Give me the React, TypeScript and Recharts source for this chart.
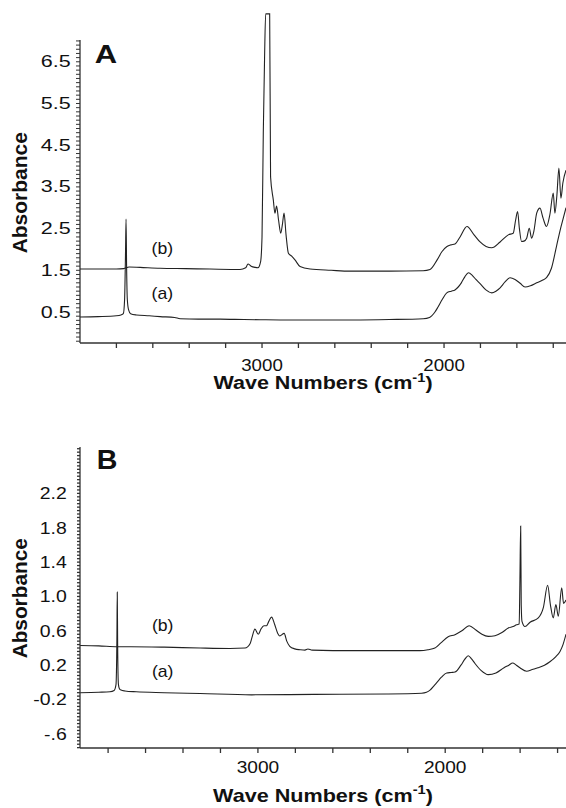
import React from 'react';
import { LineChart, Line, XAxis, YAxis, ReferenceLine, ReferenceDot } from 'recharts';

// ---------- Panel A data ----------
const aA_wn = [4000, 3900, 3800, 3775, 3762, 3755, 3750, 3747, 3744, 3740, 3733, 3722, 3690, 3620, 3560, 3480, 3450, 3350, 3230, 3100, 3010, 2900, 2740, 2500, 2300, 2114, 2080, 2050, 2033, 2010, 1985, 1960, 1940, 1905, 1885, 1866, 1845, 1825, 1802, 1770, 1738, 1715, 1692, 1665, 1637, 1610, 1582, 1555, 1525, 1491, 1460, 1436, 1410, 1381, 1360, 1345, 1330];
const aA_abs = [0.38, 0.39, 0.41, 0.43, 0.46, 0.8, 1.9, 2.73, 1.6, 0.8, 0.55, 0.46, 0.43, 0.41, 0.39, 0.37, 0.34, 0.33, 0.33, 0.32, 0.315, 0.31, 0.31, 0.31, 0.32, 0.34, 0.37, 0.5, 0.62, 0.8, 0.96, 1.0, 1.03, 1.2, 1.35, 1.44, 1.38, 1.28, 1.18, 1.03, 0.96, 1.0, 1.08, 1.22, 1.32, 1.28, 1.19, 1.1, 1.13, 1.2, 1.26, 1.33, 1.55, 2.1, 2.5, 2.75, 3.0];

const bA_wn = [4000, 3900, 3800, 3760, 3730, 3670, 3560, 3420, 3286, 3121, 3090, 3077, 3060, 3038, 3022, 3008, 3000, 2993, 2986, 2980, 2958, 2953, 2938, 2929, 2920, 2909, 2897, 2888, 2879, 2868, 2855, 2837, 2819, 2791, 2736, 2620, 2516, 2300, 2115, 2077, 2038, 2011, 1984, 1962, 1940, 1912, 1874, 1835, 1802, 1769, 1738, 1692, 1647, 1620, 1607, 1596, 1586, 1574, 1561, 1546, 1532, 1519, 1506, 1491, 1473, 1456, 1437, 1418, 1400, 1391, 1380, 1369, 1358, 1347, 1330];
const bA_abs = [1.53, 1.53, 1.53, 1.54, 1.58, 1.57, 1.55, 1.54, 1.53, 1.52, 1.56, 1.65, 1.6, 1.57, 1.56, 1.7, 2.3, 4.8, 6.6, 7.65, 7.65, 3.74, 3.19, 2.87, 3.04, 2.7, 2.39, 2.6, 2.87, 2.35, 1.91, 1.84, 1.75, 1.59, 1.53, 1.5, 1.48, 1.48, 1.49, 1.52, 1.75, 1.95, 2.07, 2.11, 2.13, 2.3, 2.55, 2.35, 2.18, 2.07, 2.04, 2.18, 2.35, 2.39, 2.7, 2.91, 2.5, 2.19, 2.2, 2.27, 2.51, 2.27, 2.45, 2.87, 2.99, 2.75, 2.55, 2.85, 3.35, 2.87, 3.3, 3.95, 3.23, 3.6, 3.9];

// ---------- Panel B data ----------
const aB_wn = [3950, 3850, 3790, 3768, 3758, 3753, 3751, 3749, 3745, 3740, 3731, 3710, 3650, 3500, 3309, 3033, 2700, 2312, 2126, 2100, 2081, 2060, 2044, 2020, 1992, 1968, 1948, 1916, 1895, 1877, 1858, 1841, 1809, 1770, 1729, 1686, 1660, 1640, 1620, 1601, 1565, 1535, 1505, 1470, 1441, 1409, 1387, 1371, 1355];
const aB_abs = [-0.12, -0.115, -0.11, -0.095, -0.03, 0.5, 1.05, 0.45, -0.02, -0.07, -0.09, -0.1, -0.11, -0.12, -0.13, -0.145, -0.14, -0.135, -0.126, -0.115, -0.09, -0.04, 0.0, 0.06, 0.11, 0.115, 0.12, 0.2, 0.27, 0.31, 0.27, 0.22, 0.14, 0.09, 0.11, 0.17, 0.2, 0.225, 0.2, 0.17, 0.13, 0.15, 0.17, 0.2, 0.24, 0.3, 0.36, 0.44, 0.56];

const bB_wn = [3950, 3850, 3750, 3680, 3500, 3309, 3150, 3069, 3042, 3032, 3016, 2998, 2984, 2968, 2954, 2942, 2927, 2910, 2894, 2883, 2860, 2846, 2830, 2803, 2775, 2749, 2733, 2711, 2600, 2402, 2135, 2092, 2055, 2023, 1984, 1948, 1911, 1872, 1836, 1804, 1770, 1734, 1697, 1663, 1637, 1619, 1605, 1601, 1597, 1594, 1590, 1574, 1547, 1503, 1476, 1453, 1438, 1423, 1409, 1396, 1378, 1368, 1355];
const bB_abs = [0.43, 0.425, 0.415, 0.415, 0.41, 0.4, 0.395, 0.4, 0.45, 0.52, 0.62, 0.56, 0.62, 0.66, 0.66, 0.71, 0.76, 0.67, 0.57, 0.54, 0.57, 0.48, 0.42, 0.39, 0.38, 0.375, 0.388, 0.375, 0.37, 0.37, 0.37, 0.38, 0.4, 0.46, 0.53, 0.555, 0.6, 0.66, 0.61, 0.56, 0.535, 0.543, 0.58, 0.633, 0.65, 0.671, 0.68, 1.2, 1.82, 0.9, 0.71, 0.65, 0.7, 0.75, 0.87, 1.13, 0.9, 0.75, 0.905, 0.77, 1.1, 0.92, 0.96];

// ---------- ticks / labels ----------
const xTicksA = [3800, 3600, 3400, 3200, 3000, 2800, 2600, 2400, 2200, 2000, 1800, 1600, 1400];
const xTicksB = [3800, 3600, 3400, 3200, 3000, 2800, 2600, 2400, 2200, 2000, 1800, 1600, 1400];
const xLabelValues = [3000, 2000];
const yLabelsA = [0.5, 1.5, 2.5, 3.5, 4.5, 5.5, 6.5];
const yLabelTextA = ['0.5', '1.5', '2.5', '3.5', '4.5', '5.5', '6.5'];
const yLabelsB = [2.2, 1.8, 1.4, 1.0, 0.6, 0.2, -0.2, -0.6];
const yLabelTextB = ['2.2', '1.8', '1.4', '1.0', '0.6', '0.2', '-0.2', '-.6'];

const minorTicks = (from: number, to: number, step: number) => {
  const out: number[] = [];
  const n = Math.round((to - from) / step);
  for (let i = 0; i <= n; i++) out.push(Math.round((from + i * step) * 1000) / 1000);
  return out;
};
const yTicksA = minorTicks(-0.2, 7.0, 0.1);
const yTicksB = minorTicks(-0.76, 2.72, 0.04);

const zip = (wn: number[], ab: number[]) => wn.map((w, i) => ({ wn: w, abs: ab[i] }));
const seriesAa = zip(aA_wn, aA_abs);
const seriesAb = zip(bA_wn, bA_abs);
const seriesBa = zip(aB_wn, aB_abs);
const seriesBb = zip(bB_wn, bB_abs);

const FONT = "'Liberation Sans', Arial, Helvetica, sans-serif";
const INK = '#111';
const LINE = '#222';

const makeXTick = (off: number, fs: number, sx: number) => (p: any) => {
  const v = p.payload?.value;
  if (!xLabelValues.includes(v)) return <g />;
  return (
    <text transform={`translate(${p.x},${p.y + off}) scale(${sx},1)`} textAnchor="middle" fontSize={fs} fontFamily={FONT} fill={INK}>
      {String(v)}
    </text>
  );
};

const makeYTick = (vals: number[], texts: string[], dx: number, dyb: number, fs: number, sx: number) => (p: any) => {
  const v = p.payload?.value;
  const idx = vals.findIndex((l) => Math.abs(l - v) < 1e-6);
  if (idx < 0) return <g />;
  return (
    <text transform={`translate(${p.x + dx},${p.y + dyb}) scale(${sx},1)`} textAnchor="end" fontSize={fs} fontFamily={FONT} fill={INK}>
      {texts[idx]}
    </text>
  );
};

const XTitle = (props: any) => {
  const vb = props.viewBox || {};
  const cx = vb.x + vb.width / 2;
  const by = vb.y + props.off;
  return (
    <text transform={`translate(${cx},${by}) scale(${props.sx},1)`} textAnchor="middle" fontSize={props.fs} fontWeight="bold" fontFamily={FONT} fill={INK}>
      Wave Numbers (cm
      <tspan fontSize={props.fs * 0.68} dy={-props.fs * 0.42}>-1</tspan>
      <tspan fontSize={props.fs} dy={props.fs * 0.42}>)</tspan>
    </text>
  );
};

const YTitle = (props: any) => {
  const vb = props.viewBox || {};
  const cy = vb.y + props.off;
  return (
    <text transform={`translate(${props.bx},${cy}) rotate(-90) scale(${props.sx},1)`} textAnchor="middle" fontSize={props.fs} fontWeight="bold" fontFamily={FONT} fill={INK}>
      Absorbance
    </text>
  );
};

const Anno = (props: any) => {
  const vb = props.viewBox || {};
  return (
    <text transform={`translate(${vb.x},${vb.y}) scale(${props.sx},1)`} textAnchor={props.anchor || 'middle'} fontSize={props.fs} fontWeight={props.bold ? 'bold' : 'normal'} fontFamily={FONT} fill={INK}>
      {props.text}
    </text>
  );
};

export default function App() {
  return (
    <div style={{ position: 'absolute', left: 0, top: 0, width: 566, height: 808, background: '#fff' }}>
      <div style={{ position: 'absolute', left: 0, top: 0 }}>
        <LineChart width={566} height={403} margin={{ top: 12.7, right: 0, bottom: 0, left: 0 }}>
          <XAxis
            type="number"
            dataKey="wn"
            domain={[1330, 4000]}
            reversed
            allowDataOverflow
            ticks={xTicksA}
            interval={0}
            height={60}
            tickSize={5}
            tickMargin={0}
            stroke="#333"
            strokeWidth={1.3}
            tick={makeXTick(22.5, 16, 1.17)}
            label={<XTitle off={46} fs={17.5} sx={1.23} />}
          />
          <YAxis
            type="number"
            domain={[-0.243, 7.677]}
            allowDataOverflow
            ticks={yTicksA}
            interval={0}
            width={80}
            tickSize={4}
            tickMargin={0}
            axisLine={false}
            stroke="#333"
            tick={makeYTick(yLabelsA, yLabelTextA, -5.3, 5.6, 15.6, 1.38)}
            label={<YTitle off={180} bx={26.7} fs={20} sx={1.05} />}
          />
          <ReferenceLine segment={[{ x: 4000, y: -0.243 }, { x: 4000, y: 7.02 }]} stroke="#333" strokeWidth={1.3} />
          <Line data={seriesAa} dataKey="abs" type="monotoneX" dot={false} stroke={LINE} strokeWidth={1.1} isAnimationActive={false} />
          <Line data={seriesAb} dataKey="abs" type="monotoneX" dot={false} stroke={LINE} strokeWidth={1.1} isAnimationActive={false} />
          <ReferenceDot x={3547} y={1.89} r={0.1} fillOpacity={0} strokeOpacity={0} label={<Anno text="(b)" fs={16} sx={1.1} />} />
          <ReferenceDot x={3547} y={0.81} r={0.1} fillOpacity={0} strokeOpacity={0} label={<Anno text="(a)" fs={16} sx={1.1} />} />
          <ReferenceDot x={3918} y={6.46} r={0.1} fillOpacity={0} strokeOpacity={0} label={<Anno text="A" fs={25} sx={1.24} bold anchor="start" />} />
        </LineChart>
      </div>
      <div style={{ position: 'absolute', left: 0, top: 404 }}>
        <LineChart width={566} height={404} margin={{ top: 43, right: 0, bottom: 0, left: 0 }}>
          <XAxis
            type="number"
            dataKey="wn"
            domain={[1355, 3950]}
            reversed
            allowDataOverflow
            ticks={xTicksB}
            interval={0}
            height={60}
            tickSize={5}
            tickMargin={0}
            stroke="#333"
            strokeWidth={1.3}
            tick={makeXTick(20.2, 16.2, 1.18)}
            label={<XTitle off={54} fs={18} sx={1.2} />}
          />
          <YAxis
            type="number"
            domain={[-0.764, 2.74]}
            allowDataOverflow
            ticks={yTicksB}
            interval={0}
            width={80}
            tickSize={3}
            tickMargin={0}
            stroke="#333"
            strokeWidth={1.3}
            tick={makeYTick(yLabelsB, yLabelTextB, -10.3, 5.8, 16.2, 1.2)}
            label={<YTitle off={151.3} bx={26.7} fs={20} sx={1.04} />}
          />
          <Line data={seriesBa} dataKey="abs" type="monotoneX" dot={false} stroke={LINE} strokeWidth={1.1} isAnimationActive={false} />
          <Line data={seriesBb} dataKey="abs" type="monotoneX" dot={false} stroke={LINE} strokeWidth={1.1} isAnimationActive={false} />
          <ReferenceDot x={3508} y={0.6} r={0.1} fillOpacity={0} strokeOpacity={0} label={<Anno text="(b)" fs={16} sx={1.1} />} />
          <ReferenceDot x={3508} y={0.06} r={0.1} fillOpacity={0} strokeOpacity={0} label={<Anno text="(a)" fs={16} sx={1.1} />} />
          <ReferenceDot x={3860} y={2.48} r={0.1} fillOpacity={0} strokeOpacity={0} label={<Anno text="B" fs={27} sx={1.06} bold anchor="start" />} />
        </LineChart>
      </div>
    </div>
  );
}
